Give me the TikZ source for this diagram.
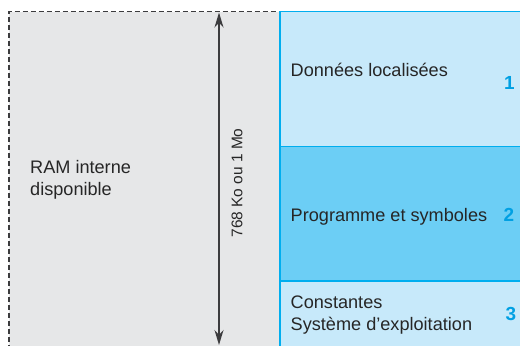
\documentclass[tikz,border=0pt]{standalone}
\usepackage{fontspec}
\setmainfont{Liberation Sans}
\usetikzlibrary{arrows.meta}
\definecolor{ramG}{RGB}{230,231,232}
\definecolor{zoneL}{RGB}{199,233,250}
\definecolor{zoneM}{RGB}{108,206,245}
\definecolor{zoneB}{RGB}{0,174,239}
\definecolor{numC}{RGB}{0,160,227}
\definecolor{lineD}{RGB}{60,60,62}

\begin{document}
\begin{tikzpicture}[x=1bp,y=-1bp,>={Stealth[length=15bp,width=9bp]},
  lbl/.style={anchor=base west,inner sep=0pt,align=left,text=black!85,font=\fontsize{18.2}{21.5}\selectfont},
  num/.style={anchor=base,inner sep=0pt,text=numC,font=\fontsize{19}{21}\selectfont\bfseries},
  zone/.style={draw=zoneB,line width=1.3bp}]
\useasboundingbox (0,0) rectangle (520,345);
\clip (0,0) rectangle (520,345);
% ---------- RAM ----------
\fill[ramG] (9,11.5) rectangle (280,350);
\draw[lineD,line width=1.4bp,dash pattern=on 5bp off 3bp] (9,350)--(9,11.5)--(280,11.5);
\node[lbl] (ram) at (30,195) {RAM interne\\disponible};
% ---------- size ----------
\coordinate (top) at (219,12.5);
\coordinate (bot) at (219,345);
\draw[<->,lineD,line width=1.5bp] (top)--(bot);
\node[rotate=90,inner sep=0pt,text=black!85,font=\fontsize{15.5}{18}\selectfont] (size) at (237,183) {768 Ko ou 1 Mo};
% ---------- zones ----------
\filldraw[zone,fill=zoneL] (280,11.5) rectangle (530,146.5);
\filldraw[zone,fill=zoneM] (280,146.5) rectangle (530,281);
\filldraw[zone,fill=zoneL] (280,281) rectangle (530,360);
\node[lbl] (z1) at (290.5,76) {Données localisées};
\node[num] (n1) at (509.5,89) {1};
\node[lbl] (z2) at (290.5,221) {Programme et symboles};
\node[num] (n2) at (509,221) {2};
\node[lbl] (z3) at (290.5,330) {Constantes\\Système d’exploitation};
\node[num] (n3) at (511,320) {3};
\end{tikzpicture}
\end{document}
